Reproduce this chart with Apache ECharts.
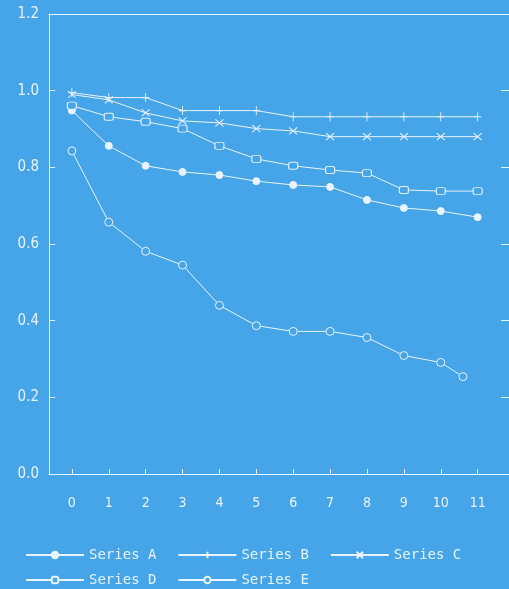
<!DOCTYPE html>
<html>
<head>
<meta charset="utf-8">
<script src="https://cdn.jsdelivr.net/npm/echarts@6/dist/echarts.min.js"></script>
<style>
html, body { margin: 0; padding: 0; background: #46a4e8; }
#main { width: 509px; height: 589px; }
</style>
</head>
<body>
<div id="main"></div>
<script>
var xTicks = [0, 1, 2, 3, 4, 5, 6, 7, 8, 9, 10, 11];
var yTicks = [0, 0.2, 0.4, 0.6, 0.8, 1.0, 1.2];

var seriesNames = ['Series A', 'Series B', 'Series C', 'Series D', 'Series E'];
var valuesA = [0.948, 0.856, 0.804, 0.788, 0.780, 0.764, 0.754, 0.749, 0.715, 0.694, 0.686, 0.670];
var valuesB = [0.995, 0.982, 0.982, 0.948, 0.948, 0.948, 0.932, 0.932, 0.932, 0.932, 0.932, 0.932];
var valuesC = [0.990, 0.976, 0.942, 0.921, 0.916, 0.901, 0.895, 0.880, 0.880, 0.880, 0.880, 0.880];
var valuesD = [0.961, 0.932, 0.919, 0.901, 0.856, 0.822, 0.804, 0.793, 0.785, 0.741, 0.738, 0.738];
var xE = [0, 1, 2, 3, 4, 5, 6, 7, 8, 9, 10, 10.6];
var valuesE = [0.843, 0.657, 0.581, 0.545, 0.440, 0.387, 0.372, 0.372, 0.356, 0.309, 0.291, 0.254];

var bg = '#46a4e8';
var ink = '#e8f4ff';
var font = "'DejaVu Sans Condensed', 'Liberation Sans Narrow', 'DejaVu Sans', sans-serif";
var legendFont = "'DejaVu Sans Mono', monospace";

function pairs(xs, ys) {
    return ys.map(function (v, i) { return [xs[i], v]; });
}

function makeSeries(name, data, symbol, size, fill) {
    return {
        name: name,
        type: 'line',
        data: data,
        symbol: symbol,
        symbolSize: size,
        showAllSymbol: true,
        lineStyle: { color: ink, width: 1 },
        itemStyle: { color: fill, borderColor: ink, borderWidth: 1 },
        emphasis: { disabled: true }
    };
}

var legendBase = {
    itemWidth: 58, itemHeight: 8, itemGap: 21,
    textStyle: { color: ink, fontSize: 14, fontFamily: legendFont },
    inactiveColor: ink
};

var chart = echarts.init(document.getElementById('main'));
var option = {
    backgroundColor: bg,
    animation: false,
    textStyle: { fontFamily: font },
    grid: {
        left: 49, right: -4, top: 14, bottom: 115,
        show: false
    },
    legend: [
        Object.assign({ data: seriesNames.slice(0, 3), left: 20, top: 543 }, legendBase),
        Object.assign({ data: seriesNames.slice(3), left: 20, top: 568 }, legendBase)
    ],
    xAxis: [{
        type: 'value',
        min: -0.62, max: 11.85,
        axisLine: { onZero: false, lineStyle: { color: ink } },
        axisTick: { inside: true, length: 5, customValues: xTicks, lineStyle: { color: ink } },
        axisLabel: { customValues: xTicks, color: ink, fontSize: 14, margin: 22, fontFamily: font },
        splitLine: { show: false }
    }, {
        type: 'value',
        position: 'top',
        min: -0.62, max: 11.85,
        axisLine: { show: true, onZero: false, lineStyle: { color: ink } },
        axisTick: { show: false },
        axisLabel: { show: false },
        splitLine: { show: false }
    }],
    yAxis: [{
        type: 'value',
        min: 0, max: 1.2, interval: 0.2,
        axisLine: { show: true, onZero: false, lineStyle: { color: ink } },
        axisTick: { show: true, inside: true, length: 6, lineStyle: { color: ink } },
        axisLabel: {
            color: ink, fontSize: 15, margin: 10, fontFamily: font,
            formatter: function (v) { return v.toFixed(1); }
        },
        splitLine: { show: false }
    }, {
        type: 'value',
        position: 'right',
        min: 0, max: 1.2, interval: 0.2,
        axisLine: { show: false, onZero: false },
        axisTick: { show: true, inside: true, length: 8, lineStyle: { color: ink } },
        axisLabel: { show: false },
        splitLine: { show: false }
    }],
    series: [
        makeSeries('Series A', pairs(xTicks, valuesA), 'circle', 7, ink),
        makeSeries('Series B', pairs(xTicks, valuesB), 'path://M5,0L5,10M0,5L10,5', [7, 9], 'none'),
        makeSeries('Series C', pairs(xTicks, valuesC), 'path://M0,0L10,10M10,0L0,10', [8, 7], 'none'),
        makeSeries('Series D', pairs(xTicks, valuesD), 'roundRect', [9, 7], bg),
        makeSeries('Series E', pairs(xE, valuesE), 'circle', 8, bg)
    ]
};
chart.setOption(option);
</script>
</body>
</html>
